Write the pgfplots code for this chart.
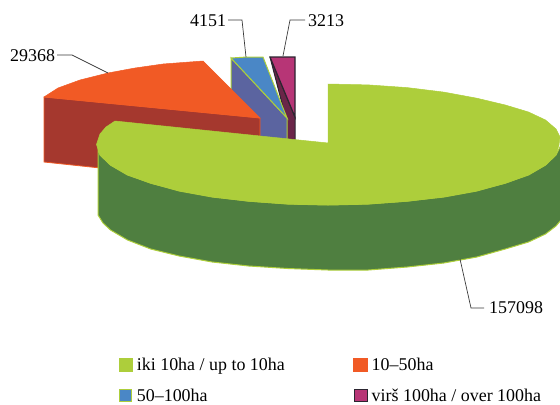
\documentclass[border=0pt]{standalone}
\usepackage{pgfplots}
\pgfplotsset{compat=1.18}
\usepackage{fontspec}
\setmainfont{Liberation Serif}
\definecolor{gtop}{HTML}{ADCE3B}
\definecolor{gwall}{HTML}{4F7F40}
\definecolor{otop}{HTML}{F15A25}
\definecolor{owall}{HTML}{A5382E}
\definecolor{btop}{HTML}{4A87C6}
\definecolor{bwall}{HTML}{5B64A0}
\definecolor{mtop}{HTML}{B73576}
\definecolor{mwall}{HTML}{6A2548}
\definecolor{mline}{HTML}{2B2530}
\definecolor{lead}{HTML}{3A3A3A}
\begin{document}
\begin{tikzpicture}
\begin{axis}[
  scale only axis, width=560bp, height=404bp,
  xmin=0, xmax=560, ymin=0, ymax=404, y dir=reverse,
  hide axis,
  legend cell align=left,
  legend columns=2,
  legend style={at={(axis cs:119,356)}, anchor=north west, draw=none, fill=none,
    font=\fontsize{18}{20}\selectfont, inner sep=0pt, outer sep=0pt,
    row sep=13bp,
    /tikz/every even column/.append style={column sep=66.5bp}},
]
% corners keep the page size
\addplot[draw=none, forget plot] coordinates {(0,0) (560,404)};
% magenta slice
\addplot[fill=mwall, draw=mline, line width=1pt, forget plot] coordinates {(270,57) (295,117) (295,140) (285,140) (285,115)} --cycle;
\addplot[fill=mtop, draw=mline, line width=1.2pt, forget plot] coordinates {(270,57) (295,57) (295,117)} --cycle;
% blue slice
\addplot[fill=bwall, draw=gtop, line width=1pt, forget plot] coordinates {(231,58) (287,118) (287,140) (231,140)} --cycle;
\addplot[fill=btop, draw=gtop, line width=1pt, forget plot] coordinates {(231,58) (247,57) (263,57) (287,118)} --cycle;
% orange slice
\addplot[fill=owall, draw=otop, line width=0.8pt, forget plot] coordinates {(44,97) (260,118) (260,185) (44,162)} --cycle;
\addplot[fill=otop, draw=otop, line width=0.5pt, forget plot] coordinates {(44,97) (58,88) (80,80) (108,73) (135,68) (163,64) (203,61) (260,118)} --cycle;
% green slice wall
\addplot[fill=gwall, draw=gtop, line width=1pt, forget plot] coordinates {
 (98,145) (100,155) (110.5,165) (127.5,175) (150.7,183) (179.2,191) (212.2,197) (248.8,201) (287.8,204) (328,205) (368.2,204) (407.2,201) (443.8,197) (476.8,191) (505.3,183) (528.5,175) (545.5,165) (556,155) (561,145)
 (561,220) (556,226) (545.5,234) (528.5,242) (505.3,249) (476.8,257) (443.8,263) (407.2,267) (368.2,270) (328,270) (287.8,268.5) (248.8,266) (212.2,262) (179.2,256) (150.7,249) (127.5,240) (110.5,230) (103,223) (98,215)} --cycle;
% green slice top
\addplot[fill=gtop, draw=gtop, line width=0.5pt, forget plot] coordinates {
 (328,84) (368.2,84.9) (407.2,87.6) (443.8,92.1) (476.8,98.2) (505.3,105) (528.5,112) (545.5,120) (556,129) (560,137) (559,145) (556,155) (545.5,165.2) (528.5,174.8) (505.3,183.4) (476.8,190.8) (443.8,196.9) (407.2,201.4) (368.2,204.1) (328,205) (287.8,204.1) (248.8,201.4) (212.2,196.9) (179.2,190.8) (150.7,183.4) (127.5,174.8) (110.5,165.2) (100,155) (96.5,144.5) (100,134) (106,127) (115,121) (328,143)} --cycle;
% leader lines
\addplot[lead, line width=0.7pt, forget plot] coordinates {(460,259) (471,308) (484,308)};
\addplot[lead, line width=0.7pt, forget plot] coordinates {(57,55) (72,55) (108,73)};
\addplot[lead, line width=0.7pt, forget plot] coordinates {(228,20) (242,20) (246,57)};
\addplot[lead, line width=0.7pt, forget plot] coordinates {(305,20) (290,20) (283,56)};
% labels
\node[anchor=west, inner sep=0pt, font=\fontsize{18}{20}\selectfont] at (axis cs:489,308) {157098};
\node[anchor=west, inner sep=0pt, font=\fontsize{18}{20}\selectfont] at (axis cs:10,56) {29368};
\node[anchor=west, inner sep=0pt, font=\fontsize{18}{20}\selectfont] at (axis cs:190,21) {4151};
\node[anchor=west, inner sep=0pt, font=\fontsize{18}{20}\selectfont] at (axis cs:308,21) {3213};
% legend
\addlegendimage{legend image code/.code={\path (15.5bp,0bp); \fill[gtop] (0bp,-6.5bp) rectangle (13bp,6.5bp);}}
\addlegendentry{iki 10ha / up to 10ha}
\addlegendimage{legend image code/.code={\path (16bp,0bp); \fill[otop] (0bp,-6.5bp) rectangle (14bp,6.5bp);}}
\addlegendentry{10--50ha}
\addlegendimage{legend image code/.code={\path (15.5bp,0bp); \draw[fill=btop,draw=gtop,line width=1pt] (0.5bp,-6bp) rectangle (12.5bp,6bp);}}
\addlegendentry{50--100ha}
\addlegendimage{legend image code/.code={\path (16bp,0bp); \draw[fill=mtop,draw=mline,line width=1pt] (0.5bp,-6bp) rectangle (13.5bp,6bp);}}
\addlegendentry{virš 100ha / over 100ha}
\end{axis}
\end{tikzpicture}
\end{document}
